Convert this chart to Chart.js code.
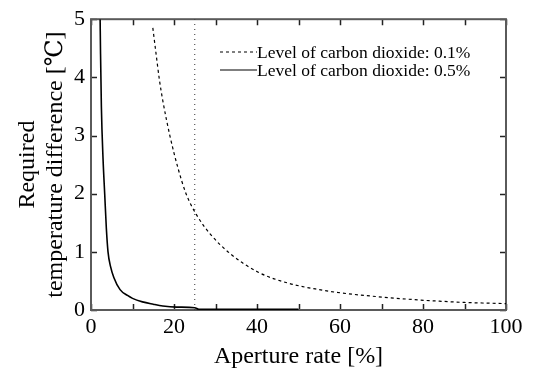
<!DOCTYPE html>
<html>
<head>
<meta charset="utf-8">
<script src="https://cdn.jsdelivr.net/npm/chart.js@4.4.1/dist/chart.umd.min.js"></script>
<style>
html,body{margin:0;padding:0;background:#fff;}
#wrap{width:533px;height:373px;}
</style>
</head>
<body>
<div id="wrap"><canvas id="c" width="533" height="373"></canvas></div>
<script>
// Data
const co2_01_x = [14.9, 15.6, 16.5, 17.3, 19.0, 21.0, 22.9, 25.4, 28.8, 33.7, 40.3, 47.6, 55.0, 60.7, 70.5, 79.5, 84.4, 90.0, 100.0];
const co2_01_y = [4.85, 4.45, 3.95, 3.60, 3.00, 2.43, 2.00, 1.64, 1.30, 0.96, 0.65, 0.46, 0.35, 0.29, 0.22, 0.17, 0.15, 0.13, 0.11];
const co2_05_x = [2.2, 2.3, 2.5, 2.9, 3.3, 3.7, 4.1, 4.7, 5.5, 7.0, 8.8, 10.0, 12.4, 15.0, 17.3, 20.6, 25.0, 26.0, 50.0];
const co2_05_y = [5.0, 4.4, 3.5, 2.6, 2.0, 1.4, 1.0, 0.75, 0.56, 0.35, 0.25, 0.20, 0.14, 0.10, 0.07, 0.05, 0.04, 0.01, 0.01];
const markerX = [25, 25];
const markerY = [0, 5];
const seriesLabels = ['Level of carbon dioxide: 0.1%', 'Level of carbon dioxide: 0.5%'];
const xTicksMajor = [0, 20, 40, 60, 80, 100];
const xTicksMinor = [10, 30, 50, 70, 90];
const yTicksMajor = [0, 1, 2, 3, 4, 5];
const xTitle = 'Aperture rate [%]';
const yTitle = ['Required', 'temperature difference [\u2103]'];

const toPts = (xs, ys) => xs.map((x, i) => ({x: x, y: ys[i]}));
const FONT = '"Liberation Serif", "DejaVu Serif", serif';

const framePlugin = {
  id: 'frame',
  beforeDatasetsDraw(chart) {
    const {ctx, chartArea: a, scales} = chart;
    const xs = scales.x, ys = scales.y;
    ctx.save();
    ctx.strokeStyle = '#222';
    ctx.lineWidth = 1.5;
    const tl = 6;
    [...xTicksMajor, ...xTicksMinor].forEach(v => {
      const px = Math.round(xs.getPixelForValue(v)) + 0.5;
      ctx.beginPath();
      ctx.moveTo(px, a.bottom); ctx.lineTo(px, a.bottom - tl);
      ctx.moveTo(px, a.top); ctx.lineTo(px, a.top + tl);
      ctx.stroke();
    });
    yTicksMajor.forEach(v => {
      const py = Math.round(ys.getPixelForValue(v)) + 0.5;
      ctx.beginPath();
      ctx.moveTo(a.left, py); ctx.lineTo(a.left + tl, py);
      ctx.moveTo(a.right, py); ctx.lineTo(a.right - tl, py);
      ctx.stroke();
    });
    ctx.strokeStyle = '#5a5a5a';
    ctx.lineWidth = 2;
    ctx.strokeRect(a.left, a.top, a.right - a.left, a.bottom - a.top);
    ctx.restore();
  },
  afterDraw(chart) {
    const ctx = chart.ctx;
    const ds = chart.data.datasets;
    ctx.save();
    ctx.font = '17.5px ' + FONT;
    ctx.fillStyle = '#000';
    ctx.textBaseline = 'middle';
    const lx0 = 220, lx1 = 257;
    const rows = [52, 70];
    [0, 1].forEach(i => {
      ctx.strokeStyle = '#000';
      ctx.lineWidth = 1.2;
      ctx.setLineDash(ds[i].borderDash || []);
      ctx.beginPath();
      ctx.moveTo(lx0, rows[i]); ctx.lineTo(lx1, rows[i]);
      ctx.stroke();
      ctx.setLineDash([]);
      ctx.fillText(ds[i].label, lx1, rows[i] + 1);
    });
    ctx.restore();
  }
};

new Chart(document.getElementById('c'), {
  type: 'scatter',
  data: {
    datasets: [
      {label: seriesLabels[0], data: toPts(co2_01_x, co2_01_y), showLine: true, borderColor: '#000', borderWidth: 1.2, borderDash: [3, 3], pointRadius: 0, cubicInterpolationMode: 'monotone'},
      {label: seriesLabels[1], data: toPts(co2_05_x, co2_05_y), showLine: true, borderColor: '#000', borderWidth: 1.6, pointRadius: 0, cubicInterpolationMode: 'monotone'},
      {label: 'marker', data: toPts(markerX, markerY), showLine: true, borderColor: '#333', borderWidth: 1, borderDash: [1, 4], pointRadius: 0}
    ]
  },
  options: {
    responsive: false,
    animation: false,
    devicePixelRatio: 1,
    layout: {padding: {left: 14, right: 27, top: 14, bottom: 0}},
    plugins: {legend: {display: false}, tooltip: {enabled: false}},
    scales: {
      x: {
        type: 'linear', min: 0, max: 100,
        afterFit(s) { s.height = 373 - 310; },
        grid: {display: false, drawTicks: false},
        border: {display: false},
        ticks: {stepSize: 20, color: '#000', padding: 4, font: {family: FONT, size: 22}},
        title: {display: true, text: xTitle, color: '#000', font: {family: FONT, size: 24}, padding: {top: 0, bottom: 2}}
      },
      y: {
        type: 'linear', min: 0, max: 5,
        afterFit(s) { s.width = 77; },
        grid: {display: false, drawTicks: false},
        border: {display: false},
        ticks: {stepSize: 1, color: '#000', padding: 6, font: {family: FONT, size: 22}},
        title: {display: true, text: yTitle, color: '#000', font: {family: FONT, size: 24, lineHeight: 1.15}, padding: {top: 0, bottom: 2}}
      }
    }
  },
  plugins: [framePlugin]
});
</script>
</body>
</html>
